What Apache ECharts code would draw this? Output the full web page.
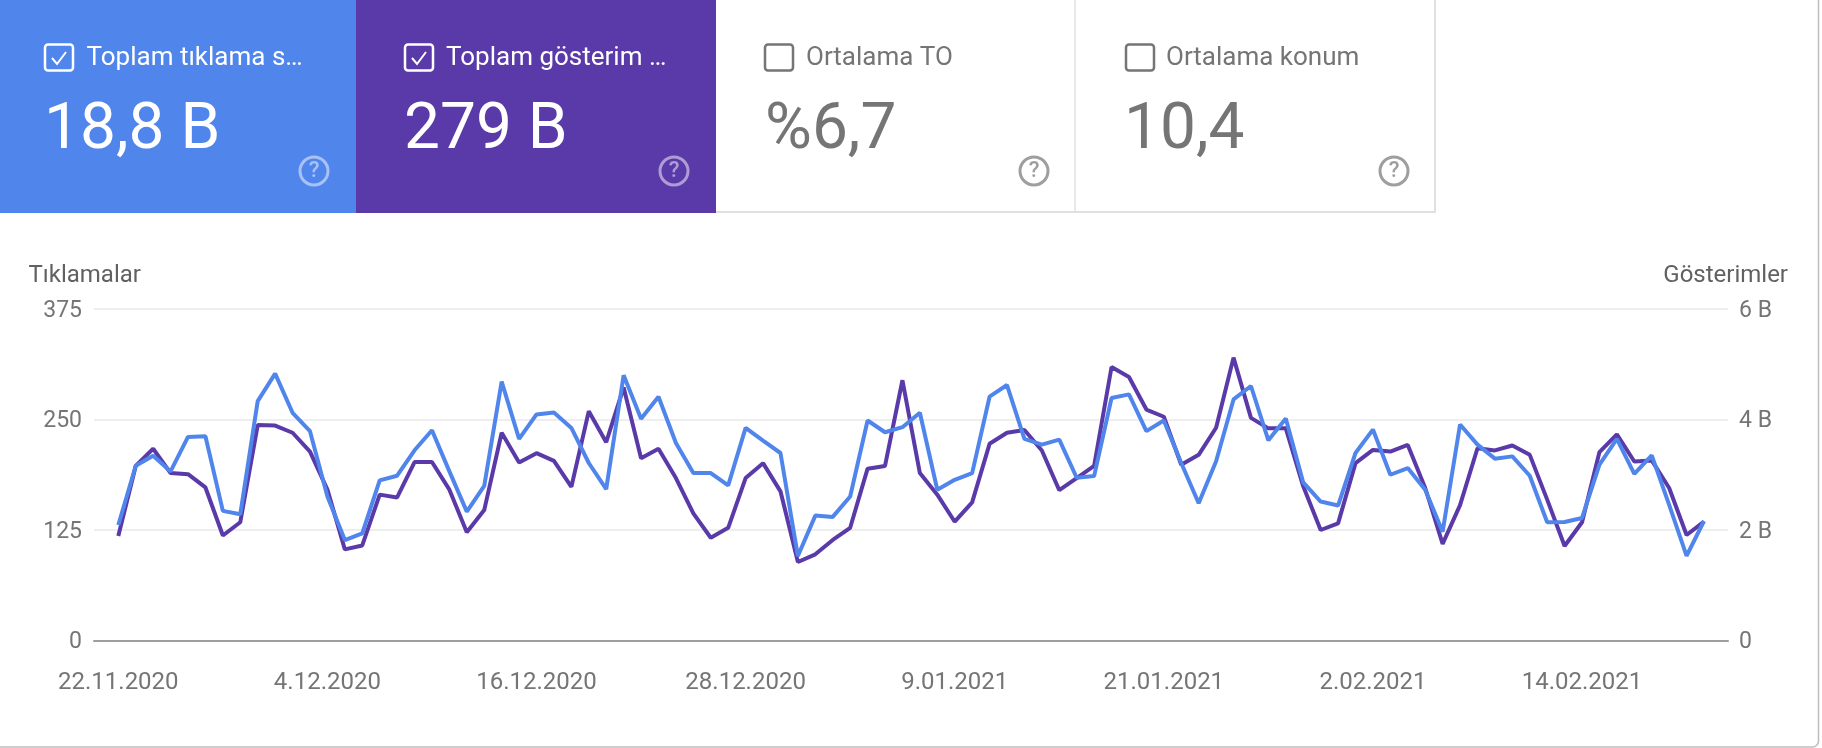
<!DOCTYPE html>
<html><head><meta charset="utf-8">
<style>html,body{margin:0;padding:0;background:#fff}#c{width:1822px;height:748px}</style>
<script src="https://cdn.jsdelivr.net/npm/echarts@6/dist/echarts.min.js"></script>
</head><body><div id="c"></div>
<script>
const tickIndex = [0,12,24,36,48,60,72,84];
const tickLabels = ['22.11.2020','4.12.2020','16.12.2020','28.12.2020','9.01.2021','21.01.2021','2.02.2021','14.02.2021'];
const clicks = [130.7,197.7,209.1,191.3,230.3,231.1,146.6,142.8,270.8,301.9,257.6,236.8,162.9,113.6,121.2,181.1,186.4,215.2,237.9,191.3,145.8,175.0,292.8,228.0,255.7,258.0,240.5,200.8,171.2,300.0,250.8,275.8,223.5,189.4,189.4,175.4,240.5,226.1,212.1,95.5,141.3,139.8,162.9,248.9,235.6,241.3,257.6,170.5,181.8,189.4,275.8,289.0,228.0,221.6,227.3,184.1,186.0,274.3,278.4,236.8,248.9,200.8,155.3,202.7,272.7,287.9,226.5,251.1,178.8,157.2,152.7,212.1,238.6,187.5,195.1,170.5,123.1,244.3,221.6,205.7,208.3,186.4,133.7,134.1,138.6,198.9,228.0,188.6,209.5,153.4,95.8,135.2];
const impressions = [1.89,3.16,3.47,3.03,3.01,2.77,1.90,2.14,3.90,3.89,3.76,3.42,2.73,1.65,1.72,2.64,2.59,3.23,3.23,2.73,1.96,2.36,3.76,3.22,3.39,3.25,2.78,4.15,3.59,4.58,3.30,3.47,2.94,2.30,1.86,2.04,2.94,3.21,2.70,1.42,1.56,1.82,2.04,3.11,3.16,4.71,3.03,2.64,2.15,2.50,3.56,3.76,3.81,3.44,2.72,2.94,3.16,4.95,4.77,4.18,4.05,3.18,3.36,3.85,5.12,4.03,3.84,3.84,2.79,2.00,2.12,3.21,3.45,3.42,3.54,2.76,1.75,2.45,3.48,3.44,3.53,3.36,2.55,1.71,2.14,3.41,3.73,3.24,3.26,2.76,1.91,2.15];
const cardTitles = ['Toplam tıklama s…','Toplam gösterim …','Ortalama TO','Ortalama konum'];
const cardValues = ['18,8 B','279 B','%6,7','10,4'];
const leftTitle = 'Tıklamalar', rightTitle = 'Gösterimler';
const BLUE = '#5085EC', PURPLE = '#5A3AA8', GREY = '#757575';
const FF = 'Roboto, sans-serif';

const cards = [
  {x:0,w:356,bg:BLUE,fg:'#fff',box:44,title:86.5,num:44,help:314,on:true},
  {x:356,w:360,bg:PURPLE,fg:'#fff',box:404,title:446,num:404,help:674,on:true},
  {x:716,w:359,bg:'#fff',fg:GREY,box:764,title:806,num:765,help:1034,on:false},
  {x:1075,w:360,bg:'#fff',fg:GREY,box:1125,title:1166,num:1124,help:1394,on:false}
];
const g = [];
g.push({type:'rect',silent:true,shape:{x:-6,y:-6,width:1824.5,height:753,r:6},style:{fill:'#fff',stroke:'#bdbdbd',lineWidth:1.5},z:0});
g.push({type:'polyline',silent:true,shape:{points:[[716,212],[1435,212],[1435,0]]},style:{fill:null,stroke:'#e0e0e0',lineWidth:2},z:1});
g.push({type:'line',silent:true,shape:{x1:1075,y1:0,x2:1075,y2:212},style:{stroke:'#e0e0e0',lineWidth:1.5},z:1});
cards.forEach((c,i)=>{
  if(c.on) g.push({type:'rect',silent:true,shape:{x:c.x,y:0,width:c.w,height:213},style:{fill:c.bg},z:2});
  g.push({type:'rect',silent:true,shape:{x:c.box+1,y:44.5,width:28,height:26,r:3},style:{fill:'none',stroke:c.fg,lineWidth:2.5},z:3});
  if(c.on) g.push({type:'polyline',silent:true,shape:{points:[[c.box+8,58],[c.box+13,64],[c.box+22,52]]},style:{fill:null,stroke:c.fg,lineWidth:2},z:3});
  g.push({type:'text',silent:true,style:{x:c.title,y:58,text:cardTitles[i],font:'400 26px '+FF,fill:c.fg,textVerticalAlign:'middle'},z:3});
  g.push({type:'text',silent:true,style:{x:c.num,y:132,text:cardValues[i],font:'400 64px '+FF,fill:c.fg,textVerticalAlign:'middle'},z:3});
  g.push({type:'circle',silent:true,shape:{cx:c.help,cy:171,r:14},style:{fill:'none',stroke:c.on?'rgba(255,255,255,.5)':'#9e9e9e',lineWidth:3},z:3});
  g.push({type:'text',silent:true,style:{x:c.help,y:171.5,text:'?',font:'500 22px '+FF,fill:c.on?'rgba(255,255,255,.5)':'#9e9e9e',textAlign:'center',textVerticalAlign:'middle'},z:3});
});
g.push({type:'text',silent:true,style:{x:28.5,y:276,text:leftTitle,font:'400 24px '+FF,fill:'#616161',textVerticalAlign:'middle'},z:3});
g.push({type:'text',silent:true,style:{x:1788,y:276,text:rightTitle,font:'400 24px '+FF,fill:'#616161',textAlign:'right',textVerticalAlign:'middle'},z:3});

const chart = echarts.init(document.getElementById('c'),null,{renderer:'canvas'});
const labelStyle = {color:GREY,fontSize:23,fontFamily:FF};
const yRich = {a:{color:GREY,fontSize:23,fontFamily:FF,padding:[4,0,0,0]}};
chart.setOption({
  animation:false,
  backgroundColor:'#fff',
  graphic:g,
  grid:{left:94,right:94,top:309,bottom:107.5,containLabel:false},
  xAxis:{type:'value',min:-1.395,max:92.377,
    axisLine:{show:true,onZero:false,lineStyle:{color:'#9e9e9e',width:2}},axisTick:{show:false,customValues:tickIndex},splitLine:{show:false},
    axisLabel:Object.assign({},labelStyle,{fontSize:24,margin:30,customValues:tickIndex,formatter:v=>tickLabels[tickIndex.indexOf(v)]})},
  yAxis:[
    {type:'value',min:0,max:375,interval:125,axisLine:{show:false},axisTick:{show:false},
      splitLine:{show:true,lineStyle:{color:'#eeeeee',width:2}},axisLabel:Object.assign({},labelStyle,{margin:12,rich:yRich,formatter:v=>'{a|'+v+'}'})},
    {type:'value',min:0,max:6,interval:2,axisLine:{show:false},axisTick:{show:false},splitLine:{show:false},
      axisLabel:Object.assign({},labelStyle,{margin:11,rich:yRich,formatter:v=>'{a|'+(v===0?'0':v+' B')+'}'})}
  ],
  series:[
    {name:'Toplam gösterim',type:'line',yAxisIndex:1,symbol:'none',data:impressions.map((v,i)=>[i,v]),lineStyle:{color:PURPLE,width:4},itemStyle:{color:PURPLE},z:3},
    {name:'Toplam tıklama',type:'line',yAxisIndex:0,symbol:'none',data:clicks.map((v,i)=>[i,v]),lineStyle:{color:BLUE,width:4},itemStyle:{color:BLUE},z:4}
  ]
});
</script></body></html>
